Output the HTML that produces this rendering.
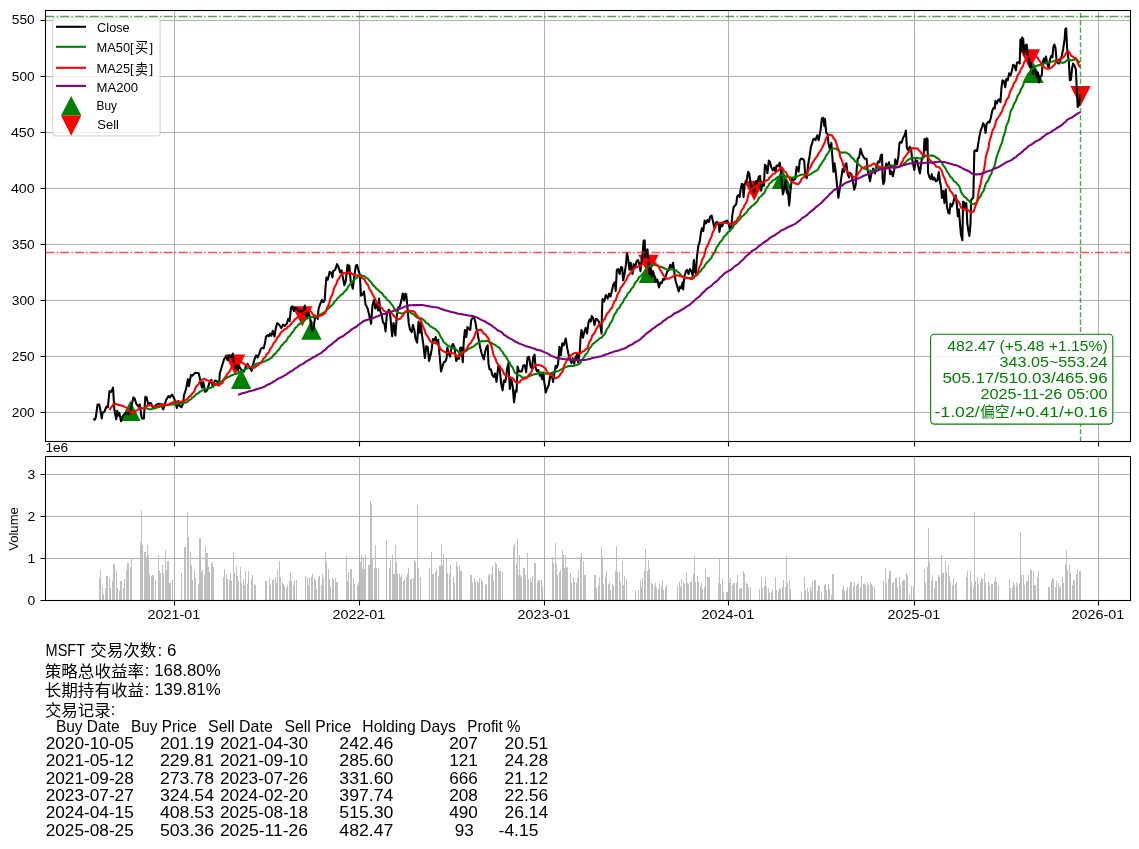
<!DOCTYPE html>
<html lang="zh"><head><meta charset="utf-8"><title>MSFT MA strategy backtest</title>
<style>html,body{margin:0;padding:0;background:#fff}svg{display:block;will-change:transform}text{font-family:"Liberation Sans", sans-serif;white-space:pre}text.cjk{font-family:"Liberation Sans", "Noto Sans CJK SC", sans-serif}</style></head><body>
<svg width="1139" height="849" viewBox="0 0 1139 849">
<rect width="1139" height="849" fill="#fff"/>
<path d="M174.5 10.5V441.5M359.5 10.5V441.5M544.5 10.5V441.5M728.5 10.5V441.5M914.5 10.5V441.5M1098.5 10.5V441.5M45.5 412.5H1130.5M45.5 356.5H1130.5M45.5 300.5H1130.5M45.5 244.5H1130.5M45.5 188.5H1130.5M45.5 132.5H1130.5M45.5 76.5H1130.5M45.5 20.5H1130.5" stroke="#b0b0b0" stroke-width="1" fill="none" shape-rendering="crispEdges"/>
<clipPath id="c1"><rect x="45.5" y="10.5" width="1085" height="431"/></clipPath>
<g clip-path="url(#c1)">
<path d="M130.32 400.67L120.12 421.07L140.52 421.07Z" fill="#008000"/>
<path d="M241.13 368.64L230.93 389.04L251.33 389.04Z" fill="#008000"/>
<path d="M311.46 319.43L301.26 339.83L321.66 339.83Z" fill="#008000"/>
<path d="M648.94 262.63L638.74 283.03L659.14 283.03Z" fill="#008000"/>
<path d="M782.01 168.63L771.81 189.03L792.21 189.03Z" fill="#008000"/>
<path d="M1033.48 62.51L1023.28 82.91L1043.68 82.91Z" fill="#008000"/>
<path d="M235.06 374.88L224.86 354.48L245.26 354.48Z" fill="#ff0000"/>
<path d="M302.35 326.61L292.15 306.21L312.55 306.21Z" fill="#ff0000"/>
<path d="M648.44 275.13L638.24 254.73L658.64 254.73Z" fill="#ff0000"/>
<path d="M754.19 201.11L743.99 180.71L764.39 180.71Z" fill="#ff0000"/>
<path d="M1029.94 69.55L1019.74 49.15L1040.14 49.15Z" fill="#ff0000"/>
<path d="M1080.54 106.29L1070.34 85.89L1090.74 85.89Z" fill="#ff0000"/>
<polyline points="93.63,418.21 94.47,419.9 95.73,417.79 97.56,404.45 99.24,404.45 100.37,410.07 101.77,418.5 102.48,412.88 104.58,411.47 106.41,406.56 107.81,407.26 109.5,391.1 111.18,391.81 113.01,387.59 113.71,398.83 114.41,410.07 116.24,419.2 117.22,410.77 118.21,415.69 119.33,412.88 121.02,421.3 122.14,417.09 124.25,414.28 126.35,412.88 128.46,414.28 130.57,410.07 133.38,397.43 134.78,398.83 136.19,403.75 138.29,406.56 139.7,404.45 141.81,418.5 143.91,418.5 145.32,396.72 146.72,397.43 148.13,404.45 149.53,403.04 150.94,403.04 153.04,407.96 155.85,405.15 158.66,403.75 161.47,404.45 163.16,409.37 164.28,406.56 165.97,400.23 168.5,396.02 169.9,397.43 172.01,394.62 174.11,398.13 176.92,407.96 178.33,400.94 179.73,405.85 181.42,407.26 183.24,403.04 183.95,395.32 186.05,389 187.88,379.16 188.86,386.19 190.97,374.95 192.38,375.65 195.18,372.84 198.7,373.26 200.1,379.16 201.93,387.59 203.33,381.97 205.02,391.81 207.12,390.4 209.23,383.38 211.34,379.87 212.74,386.89 214.85,380.57 216.96,381.27 219.06,385.49 219.77,373.55 221.87,366.52 223.98,359.5 226.09,355.99 227.49,360.2 228.9,355.28 231,357.39 232.83,353.6 233.81,362.31 235.22,367.93 236.62,365.12 238.03,370.74 239.05,365.97 241.15,369.48 243.96,371.59 246.07,365.97 247.48,363.86 249.58,367.38 251.69,370.89 253.09,364.57 254.78,358.24 256.18,355.44 257.59,357.54 259.41,353.33 260.82,349.11 262.22,347.71 263.63,348.41 265.03,342.79 266.02,336.47 267.84,335.07 268.83,336.47 269.95,333.66 271.35,335.77 272.76,330.85 274.45,336.47 275.85,328.04 277.25,323.13 279.08,324.53 281.19,328.04 283.29,324.53 284.7,325.94 286.81,323.83 288.21,318.91 289.62,321.02 291.02,307.68 292.43,306.27 293.83,311.19 295.23,307.68 297.34,309.08 299.45,311.89 301.56,310.49 302.96,314 304.79,305.57 305.77,314 307.17,316.81 308.58,312.59 309.98,316.81 310.97,325.23 312.37,330.85 313.78,327.34 314.9,317.51 316.3,316.81 317.71,318.91 318.41,309.78 319.82,304.87 321.92,299.95 323.33,302.06 324.73,299.95 325.44,288.71 326.42,277.48 327.82,279.58 329.65,271.86 331.05,272.56 332.46,277.48 333.16,271.15 335.27,269.75 337.09,264.13 338.78,267.64 340.18,272.56 341.59,270.45 342.99,278.18 344.4,285.2 345.8,280.99 347.49,264.83 348.61,273.26 349.32,265.54 350.72,281.69 352.83,288.71 354.23,276.07 355.92,265.54 357.04,264.83 358.45,270.45 359.85,274.67 360.97,295.74 362.66,294.33 364.06,291.52 365.47,304.16 367.58,308.38 368.98,314 371.09,323.83 372.49,305.57 373.9,299.95 375.3,308.38 376.71,303.46 378.11,310.49 379.09,298.55 380.22,311.19 381.62,314.7 383.03,322.43 384.43,323.83 385.54,331.35 386.94,313.09 389.05,309.58 390.45,317.31 392.14,336.27 393.54,322.93 395.37,335.57 396.77,315.9 398.18,307.48 400,306.07 401.69,299.05 402.81,293.43 404.22,300.45 405.2,293.71 406.18,294.13 407.59,308.88 408.71,322.93 410.12,329.95 411.8,332.06 412.93,325.03 414.33,329.95 415.46,338.38 417.14,342.59 418.55,321.52 419.67,332.76 420.65,322.93 422.06,335.57 423.46,345.4 424.87,358.04 426.27,346.1 427.68,346.81 429.08,360.85 430.49,355.23 431.89,348.21 432.87,339.08 434.28,340.49 435.68,336.97 436.81,342.59 438.21,339.78 439.62,355.23 441.02,371.39 442.43,366.47 443.83,362.26 445.23,361.56 446.64,358.04 447.34,347.51 448.75,353.83 450.15,356.64 451.56,346.81 452.96,344 454.37,346.81 456.19,360.85 457.88,358.04 459,358.75 459.98,348.21 461.39,347.51 462.79,362.26 463.78,341.19 464.9,329.95 466.3,336.97 467.43,327.14 468.83,328.55 470.24,329.95 471.22,320.12 472.63,318.01 474.03,317.31 475.44,322.22 476.42,328.55 477.54,332.76 478.95,341.19 480.35,348.21 481.76,353.83 483.86,359.45 485.27,351.02 486.67,346.81 487.66,345.4 488.5,363.66 489.48,369.28 490.89,369.28 492.29,374.9 493.7,377.01 495.1,373.5 496.51,381.92 498.33,365.77 499.74,369.28 501.14,383.33 502.55,390.35 503.95,380.52 505.36,381.92 507.04,369.28 508.45,362.96 509.85,388.95 511.26,379.11 512.66,386.14 514.06,402.29 515.47,390.35 516.59,391.76 517.58,366.47 518.98,371.39 521.79,371.39 523.19,365.77 524.6,365.07 525,365.85 526.12,372.17 527.53,357.43 528.93,356.72 530.62,366.56 532.02,368.66 533.15,357.43 534.55,354.62 535.54,367.26 536.94,371.47 538.34,370.07 539.75,375.69 541.15,374.28 542.14,379.2 543.26,372.88 544.38,382.71 545.79,392.54 547.19,388.33 548.6,385.52 550,377.09 551.41,372.88 553.09,382.01 554.22,374.28 555.62,365.85 556.61,367.96 558.01,364.45 559.41,346.89 560.82,355.32 562.22,343.38 563.63,345.49 565.74,338.46 567.14,347.59 568.55,354.62 569.95,358.83 571.35,363.04 572.76,358.13 574.16,363.75 575.57,357.43 576.97,354.62 578.1,362.34 579.78,351.81 580.49,337.76 581.47,330.03 582.87,337.76 584.28,332.14 585.68,327.93 587.09,333.55 588.49,322.31 589.62,319.5 590.74,321.61 591.72,315.99 593.13,318.09 594.53,325.12 595.94,318.8 597.34,319.5 598.75,321.61 600.15,325.12 601.56,333.55 601.98,311.07 602.54,299.13 604.21,301.39 605.9,295.07 607.73,298.58 609.13,293.66 610.54,296.47 612.36,288.75 613.34,284.53 614.75,282.43 615.73,290.85 616.86,269.78 618.26,269.08 619.67,274 621.07,266.97 622.19,267.68 623.18,280.32 624.58,274 625.99,264.16 626.97,252.93 628.09,258.55 629.5,269.78 630.62,262.76 632.59,274 633.71,264.16 635.12,267.68 636.52,261.35 637.93,259.95 639.33,264.16 640.46,271.19 641.44,261.35 642.42,257.14 643.55,240.99 644.67,240.28 645.23,257.14 646.35,250.12 647.48,249.41 648.46,261.35 649.45,274 650.57,268.38 651.69,276.81 653.1,271.19 654.5,276.81 655.49,281.72 657.31,279.62 659,287.34 660.4,282.43 661.81,283.13 663.21,278.91 664.62,279.62 666.02,275.4 667.43,271.19 668.83,269.78 670.23,264.87 671.64,267.68 673.04,262.76 674.17,271.19 675.57,281.02 676.98,285.23 678.66,291.56 680.07,286.64 681.19,288.04 682.6,282.43 683.16,289.45 684.28,276.81 685.97,271.19 687.09,269.78 688.5,274 689.9,269.08 691.3,271.19 692.71,275.4 693.83,259.95 694.82,271.19 695.8,274 696.92,257.14 698.33,245.9 699.73,241.69 700.86,233.26 701.84,228.34 703.24,231.15 704.65,220.62 706.05,223.43 707.46,219.92 708.86,222.02 710.27,216.4 711.67,215.7 713.08,222.02 714.48,228.34 715.89,222.73 717.29,222.02 718.7,224.13 719.4,231.86 720.8,224.83 722.21,226.24 723.61,222.02 725.72,221.32 727.12,220.62 728.53,223.43 729.93,229.05 731.34,226.94 732.32,215 733.71,206.92 735.12,205.52 736.24,204.11 737.22,196.39 738.63,194.98 739.61,197.09 740.74,188.66 741.86,183.75 742.84,184.45 743.55,197.09 744.67,184.45 746.07,181.64 747.06,178.83 748.04,171.81 749.16,173.21 750.29,181.64 751.27,187.96 752.68,185.85 754.08,192.88 755.06,183.75 756.19,180.94 757.31,184.45 758.72,176.72 760.12,176.02 761.1,190.77 762.51,183.04 763.91,185.85 764.9,164.78 766.3,166.19 767.43,173.21 768.83,160.57 769.95,161.97 771.36,167.59 772.76,170.4 774.17,167.59 775.57,171.81 776.56,165.49 777.96,166.19 779.79,162.68 780.77,170.4 781.75,183.04 782.88,194.28 784.28,188.66 785.69,180.23 786.81,192.88 787.79,190.07 789.2,205.52 790.6,188.66 792.01,178.83 793.41,180.23 795.24,178.83 796.64,166.89 797.63,168.29 798.61,171.81 799.73,160.57 801.14,158.46 803.24,159.16 804.23,161.27 805.35,176.02 806.76,178.13 808.16,164.78 809.57,156.35 810.97,146.52 812.09,143.71 813.08,139.5 814.48,138.8 815.47,140.2 817.29,135.28 818.7,140.2 819.68,134.58 820.52,130.37 821.93,118.43 823.33,117.73 824.32,126.15 825.02,119.13 826.14,132.48 827.55,133.88 828.53,143.71 829.93,149.33 831.34,143.01 832.32,156.35 833.45,171.81 834.57,163.38 835.55,170.4 836.96,184.45 838.36,197.79 839.77,188.66 841.17,178.83 842.58,169 843.98,171.81 845.39,164.08 846.37,163.38 847.49,173.21 848.9,177.43 850,172.76 851.4,174.16 852.81,181.19 854.21,189.62 855.62,185.4 856.74,168.55 857.73,158.71 859.13,157.31 860.54,148.88 861.94,153.8 863.34,156.61 864.75,158.71 866.58,158.71 867.56,169.95 868.96,175.57 869.95,181.19 871.35,174.16 873.18,168.55 875,173.46 876.69,165.74 878.09,161.52 879.5,162.22 880.9,155.2 882.03,154.5 882.59,178.38 883.43,184 884.41,181.19 885.12,168.55 886.24,163.63 887.65,167.14 889.05,162.22 890.03,174.16 891.44,171.35 892.84,176.27 894.25,169.95 895.23,159.41 897.06,164.33 898.46,155.9 899.45,143.26 900.57,141.86 901.69,142.56 903.1,137.64 904.5,135.54 905.91,130.62 906.89,148.18 908.29,150.28 909.7,146.77 911.1,148.88 912.09,158.71 913.21,164.33 914.33,169.95 915.74,160.12 917.14,160.82 918.55,167.84 919.95,173.46 921.36,161.52 922.76,157.31 923.75,153.09 924.45,139.05 925.57,150.28 926.56,138.34 927.54,139.05 928.1,172.76 929.37,176.97 930.77,179.08 931.75,174.16 933.16,179.78 934.28,177.68 935.97,181.19 937.37,180.49 938.78,172.06 939.9,181.19 941.02,186.81 942.01,198.04 943.41,191.02 944.4,202.96 945.8,189.62 946.92,206.47 948.33,212.79 949.45,213.5 950.44,203.66 951.84,206.47 953.24,202.96 954.65,196.64 955.63,195.23 956.76,203.66 957.88,216.3 958.86,209.28 959.85,221.92 960.97,234.57 962.38,240.18 963.08,201.56 964.06,202.26 965.18,209.28 966.31,202.96 967.29,223.33 968.28,230.35 969.4,235.97 970.52,223.33 971.08,200.15 972.21,198.75 973.33,197.34 974.32,150.99 975.72,150.28 977.12,150.99 978.11,144.67 979.23,137.64 980.64,130.62 982.04,127.11 983.18,123.16 984.58,125.97 985.57,132.99 986.69,123.86 988.09,121.76 989.5,122.46 990.9,117.54 992.31,110.52 993.71,107.71 994.84,108.41 995.4,100.69 996.8,103.5 998.21,99.98 999.61,99.28 1000.46,102.09 1001.44,88.04 1002.42,80.32 1003.83,81.02 1005.23,87.34 1006.35,78.91 1007.76,80.32 1009.16,73.29 1010.57,75.4 1011.69,71.89 1013.1,64.87 1014.5,65.57 1015.91,70.49 1016.89,62.76 1018.29,62.06 1019.7,63.46 1020.4,39.58 1021.39,51.52 1022.09,37.48 1023.21,38.88 1024.19,54.33 1024.9,48.71 1025.74,45.2 1026.72,44.5 1027.71,54.33 1028.83,57.14 1029.95,66.97 1030.94,62.76 1031.92,71.19 1033.04,74 1034.17,68.38 1035.57,70.49 1036.56,76.81 1037.96,72.59 1038.94,82.43 1040.35,76.81 1041.75,75.4 1042.88,61.35 1044,58.55 1044.98,62.76 1045.97,56.44 1047.09,62.76 1048.5,67.68 1049.9,59.95 1051.3,55.74 1052.43,57.14 1053.41,46.61 1054.4,44.5 1055.52,48.01 1056.64,61.35 1057.63,62.76 1059.03,63.46 1060.44,59.95 1061.84,55.74 1063.24,48.71 1064.65,38.88 1065.35,29.05 1066.19,28.34 1067.04,47.31 1068.16,57.14 1068.86,61.35 1069.85,80.32 1070.97,79.62 1072.09,68.38 1073.08,63.46 1074.48,65.57 1075.89,69.78 1076.59,85.23 1077.71,107.01 1079.12,104.9 1080.1,95.07 1080.52,96.05" fill="none" stroke="#000" stroke-width="2.08" stroke-linejoin="round" stroke-linecap="butt"/>
<polyline points="145.5,408.12 146.52,408.35 148.54,408.91 149.55,409.3 151.58,409.12 152.59,408.83 153.6,408.57 155.62,408.15 157.14,407.54 159.16,407 160.18,406.58 162.2,406.25 163.21,406.06 164.22,405.79 166.25,405.33 167.26,404.96 169.28,404.71 170.3,404.67 172.83,404.51 173.84,404.24 176.37,404.09 177.38,404.15 178.39,403.66 180.42,403.16 181.43,402.89 183.96,402.94 184.97,402.78 186.99,402.11 188.01,401.2 189.02,400.43 191.04,399.23 192.05,397.93 194.08,396.7 195.09,395.43 196.1,394.2 198.63,392.96 199.64,391.8 201.67,390.86 202.68,389.99 204.7,389.42 205.71,389.14 206.73,388.9 208.75,388.44 209.76,387.92 211.79,387.3 212.8,386.63 213.81,385.74 215.83,384.89 216.85,383.88 218.87,382.94 219.88,381.99 222.41,380.99 223.42,379.98 224.44,379.13 226.46,378.01 227.47,377.34 229.49,376.61 230.51,375.89 231.52,375.24 233.54,374.63 234.55,374.27 236.58,373.87 237.59,373.18 238.6,372.53 240.63,371.8 241.64,370.93 243.66,370.13 244.67,369.51 245.69,368.9 247.71,368.2 248.72,367.39 251.25,366.75 252.26,366.29 254.29,365.57 255.3,364.54 256.31,363.71 258.34,363.24 259.35,362.91 261.37,362.56 262.38,362.21 263.39,361.76 265.42,361.14 266.43,360.34 268.96,359.51 269.97,358.57 272,357.36 273.01,355.98 274.02,354.63 276.04,353 277.06,351.26 279.08,349.44 280.09,347.64 281.1,345.92 283.13,344.22 284.14,342.66 286.16,341.04 287.18,339.24 288.19,337.25 290.21,335.44 291.22,333.49 293.25,331.58 294.26,329.74 295.27,327.91 297.29,326.26 298.31,324.74 300.84,323.25 301.85,322.02 303.87,321 304.88,319.84 305.9,318.97 307.92,318.22 308.93,317.49 310.96,316.92 311.97,316.91 312.98,317.12 315,316.93 316.02,316.58 318.04,316.12 319.05,315.44 320.06,314.64 322.09,313.65 323.1,312.78 325.12,311.89 326.14,310.52 327.15,309.29 329.17,307.96 330.18,306.42 332.21,305.07 333.22,303.64 334.23,302.07 336.25,300.33 337.27,298.48 339.29,296.74 340.3,295.33 342.83,293.79 343.84,292.43 344.86,291.27 346.88,289.39 347.89,286.93 349.92,284.61 350.93,283.06 351.94,281.77 353.96,280.37 354.98,278.95 357.51,277.38 358.52,276.15 360.54,275.29 361.55,275.2 362.56,275.64 364.59,276.27 365.6,277.38 368.13,278.82 369.14,280.39 371.17,282.26 372.18,283.95 373.19,285.41 375.21,287.07 376.23,288.61 378.25,289.98 379.26,291.08 380.27,292.18 382.3,293.49 383.31,295.44 385.84,297.78 386.85,299.6 388.88,300.83 389.89,301.95 390.9,303.51 392.92,305.83 393.94,308.2 395.96,310.54 396.97,312.04 397.98,312.63 400.01,313.09 401.02,313.45 403.04,313.23 404.05,312.85 405.07,312.15 407.09,311.4 408.1,311.36 410.13,312.24 411.14,313.23 413.67,314.17 414.68,315.17 415.69,316.61 417.72,317.77 418.73,318.09 420.75,318.25 421.76,318.47 422.78,319.32 424.8,321.08 425.81,322.65 427.84,323.76 428.85,324.75 429.86,326.11 431.88,326.96 432.89,327.91 435.42,329.05 436.44,330.38 438.46,331.96 439.47,334.11 440.48,336.67 442.51,339.5 443.52,342.01 446.05,343.96 447.06,345.13 449.09,345.95 450.1,347.01 451.11,347.83 453.64,348.12 454.65,348.52 456.68,349.94 457.69,351.25 459.71,352.21 460.72,352.57 461.73,352.34 463.76,352.13 464.77,351.59 466.79,350.65 467.81,349.41 468.82,348.56 470.84,347.97 471.85,347.2 473.88,346.34 474.89,345.42 475.9,344.33 477.93,343.19 478.94,342.09 480.96,341.42 481.97,341.12 482.99,341.18 485.52,341.18 486.53,340.86 488.55,341.14 489.56,342.07 491.59,342.99 492.6,343.57 493.61,344.28 495.63,345.1 496.65,346.39 498.67,347.27 499.68,348.13 500.69,349.83 502.72,352.1 503.73,354.33 505.75,356.4 506.77,358.27 507.78,360.17 509.8,362.79 510.81,365.37 512.84,367.78 513.85,370.31 514.86,372.63 516.89,374.26 517.9,374.89 519.92,375.45 520.93,376.25 521.95,377.17 523.97,377.44 525.49,377.39 527.51,376.97 528.52,376.27 530.55,375.67 531.56,375.37 532.57,374.79 534.59,374.15 535.61,373.99 537.63,373.73 538.64,373.01 539.65,372.63 542.18,372.55 543.2,372.6 545.73,373.53 546.74,373.82 548.76,373.87 549.77,373.72 552.3,372.92 553.32,372.24 555.34,371.61 556.35,371.51 557.36,371.36 559.39,370.52 560.4,369.73 562.42,369.08 563.43,368.2 564.45,367.53 566.47,366.91 567.48,366.36 570.01,365.87 571.02,365.69 573.05,365.92 574.06,365.82 575.07,365.46 577.1,364.85 578.11,364.3 580.13,363.26 581.14,361.66 582.16,359.34 584.18,357.07 585.19,354.86 587.22,352.87 588.23,350.85 589.24,348.47 591.26,346.38 592.28,344.36 594.81,342.65 595.82,341.46 597.84,340.19 598.85,339.08 599.86,338.24 601.89,337.46 602.9,335.83 604.92,333.9 605.94,331.52 606.95,328.93 608.97,326.3 609.98,323.6 612.01,320.9 613.02,318.17 614.03,315.1 616.06,312.5 617.07,310.02 619.6,307.59 620.61,305.07 622.63,302.67 623.65,300.62 624.66,298.55 626.68,296.07 627.69,293.48 630.22,291.31 631.23,288.95 633.26,286.87 634.27,284.69 635.28,282.5 637.81,279.98 638.82,277.49 640.85,276.2 641.86,274.66 643.88,272.78 644.9,270.67 645.91,269.05 647.93,267.34 648.94,266.18 650.97,265.6 651.98,265.27 652.99,264.69 655.02,264.91 656.03,265.31 658.05,265.75 659.06,266.4 660.08,266.61 662.1,266.93 663.11,267.77 665.13,268.7 666.15,269.24 667.16,269.55 669.69,269.51 670.7,269.53 672.72,269.45 673.74,269.67 675.76,270.26 676.77,270.86 677.78,271.92 679.81,273.49 680.82,275.23 682.84,276.51 683.86,277.8 684.87,278.26 686.89,278.16 687.9,278.01 689.93,277.96 690.94,277.64 691.95,277.28 693.98,276.54 694.99,275.88 697.01,275.09 698.02,273.8 699.03,272.38 701.06,270.59 702.07,268.73 704.09,266.91 705.11,265.06 706.12,263.36 708.14,261.59 709.66,259.76 711.68,257.33 712.7,254.74 714.72,252.25 715.73,249.68 716.74,247.09 718.77,244.6 719.78,242.43 721.8,240.47 722.82,238.66 723.83,236.7 726.36,234.68 727.37,232.71 729.9,230.93 730.91,229.52 732.93,227.26 733.95,224.97 736.48,223.12 737.49,221.23 739.51,219.72 740.52,218.24 741.54,216.6 743.56,215.45 744.57,214.07 746.6,212.52 747.61,210.78 748.62,209.03 750.64,207.56 751.66,206.05 754.19,204.64 755.2,203.16 757.22,201.52 758.23,199.54 759.25,197.54 761.27,196.04 762.28,194.57 764.31,192.95 765.32,190.75 766.33,188.27 768.35,185.84 769.36,183.76 771.39,182.05 772.4,180.65 774.93,179.56 775.94,178.52 776.95,177.48 778.98,176.61 779.99,175.46 782.01,175 783.03,175.42 784.04,175.97 786.06,176.39 787.07,176.75 789.1,177.16 790.11,177.5 791.12,177.56 793.15,177.42 794.16,177.38 796.18,177.32 797.19,176.5 798.21,175.85 800.23,175.04 801.24,174.76 803.77,174.49 804.78,174.42 806.81,175.04 807.82,175.26 808.83,174.99 810.85,174.15 811.87,173.13 813.89,172.13 815.41,171.12 817.43,170.06 818.44,168.52 819.46,166.33 821.48,163.68 823,161.09 825.02,158.31 826.03,155.54 828.06,153.07 829.07,151.4 830.08,150.14 832.11,148.94 833.12,148.49 835.14,148.56 836.15,148.74 837.16,149.68 839.19,151.1 840.2,152.21 842.22,152.67 843.24,152.41 844.25,152.42 846.27,152.48 847.28,153.28 849.31,154.48 850.32,155.78 851.33,157.15 853.86,159.1 854.87,161.1 856.9,162.42 857.91,163.85 859.93,165.34 860.95,166.47 861.96,167.46 863.98,168.31 864.99,168.85 867.02,169.37 868.03,170.2 869.04,170.65 871.06,170.96 872.08,170.92 874.1,170.39 875.11,169.53 876.12,168.81 878.15,168.23 879.16,167.92 881.18,167.41 882.2,167.19 883.21,167.66 885.23,167.54 886.24,167.19 888.27,166.84 889.28,165.96 890.29,165.32 892.32,165.45 893.33,166.04 895.35,166.47 896.36,166.94 898.89,167.08 899.91,166.52 900.92,165.86 902.94,164.98 903.95,163.62 905.98,161.97 906.99,160.68 908,159.75 910.02,158.81 911.54,157.95 913.57,157.76 915.08,157.93 917.11,157.88 918.63,158.18 920.65,158.64 921.66,157.88 924.19,157.08 925.2,156.25 927.23,155.4 928.24,155.32 929.25,155.45 931.28,155.62 932.29,155.63 934.31,156.12 935.32,156.82 936.33,157.8 938.86,159.02 939.88,160.49 941.9,162.69 942.91,165.01 944.94,167.44 945.95,169.35 946.96,171.49 948.98,174.13 950,176.51 952.02,178.11 953.03,179.62 954.04,181.21 956.07,182.46 957.08,183.86 959.1,185.89 960.12,188.7 961.13,192.26 963.15,195.05 964.16,196.67 966.19,197.83 967.2,199.37 969.73,201.52 970.74,203.22 971.75,204.03 973.78,204.27 974.79,203.39 976.81,202.26 977.82,200.43 978.84,198.3 980.86,195.77 981.87,193.2 983.9,190.09 984.91,186.64 985.92,183.46 988.45,180.14 989.46,176.87 991.49,173.48 992.5,170.05 994.52,166.21 995.53,161.83 996.55,157.06 998.57,151.74 1000.09,147.21 1002.11,142.51 1003.12,137.53 1005.15,132.24 1006.16,126.36 1008.69,120.65 1009.7,115.61 1010.71,111.13 1012.74,107.78 1013.75,104.36 1015.77,101.14 1016.78,98.1 1017.8,95.35 1019.82,92.67 1020.83,89.4 1022.86,86.11 1023.87,82.68 1024.88,79.84 1026.9,76.77 1027.92,74.25 1029.94,72.27 1030.95,70.48 1031.96,69.11 1033.99,67.84 1035,66.6 1037.53,65.48 1038.54,65.12 1040.56,65.07 1041.58,64.75 1042.59,64.18 1044.61,63.49 1045.62,62.95 1047.65,62.4 1048.66,62.34 1049.67,62.25 1051.7,61.78 1052.71,61.38 1054.73,60.77 1055.74,60.27 1056.76,60.9 1058.78,61.64 1059.79,62.32 1061.82,62.61 1062.83,62.87 1063.84,62.6 1065.86,61.29 1066.88,60.25 1068.9,59.73 1069.91,59.95 1070.92,60.37 1072.95,60.1 1073.96,59.64 1075.98,59.22 1076.99,59.71 1078.01,61.17 1080.03,62.7" fill="none" stroke="#008000" stroke-width="2.08" stroke-linejoin="round"/>
<polyline points="109.58,410.12 110.59,407.98 112.62,405.7 113.63,403.78 114.64,403.58 117.17,404.3 118.18,404.9 120.21,405.08 121.22,405.68 123.24,406.09 124.25,406.6 125.26,407.16 127.29,408.13 128.3,409.95 130.32,411.59 131.34,413.09 132.35,413.23 134.37,412.01 135.38,411.04 137.41,410.15 138.42,409.17 139.43,408.02 141.46,407.95 142.47,408.31 144.49,408.36 145.5,407.2 146.52,405.87 148.54,405.41 149.55,405.24 151.58,405.54 152.59,406.14 153.6,406.61 155.62,406.6 157.14,406.5 159.16,406.1 160.18,405.04 162.2,404 163.21,404.24 164.22,405.07 166.25,405.05 167.26,404.63 169.28,404.15 170.3,403.5 172.83,402.6 173.84,401.85 176.37,401.63 177.38,401.84 178.39,401.7 180.42,401.86 181.43,401.84 183.96,401.2 184.97,400.33 186.99,399.37 188.01,398.01 189.02,397.01 191.04,395.37 192.05,393.69 194.08,391.8 195.09,389.11 196.1,386.59 198.63,384.16 199.64,381.72 201.67,380.01 202.68,379.29 204.7,378.87 205.71,379.59 206.73,380.31 208.75,380.67 209.76,381.29 211.79,381.8 212.8,382.76 213.81,383.68 215.83,384.3 216.85,384.86 218.87,385.1 219.88,384.31 222.41,383.07 223.42,380.78 224.44,378.23 226.46,375.66 227.47,373.68 229.49,371.69 230.51,369.55 231.52,367.22 233.54,365.26 234.55,363.92 236.58,362.69 237.59,361.52 238.6,361.27 240.63,361.61 241.64,362.34 243.66,363.41 244.67,364.41 245.69,365.08 247.71,365.73 248.72,366.4 251.25,367.41 252.26,368.04 254.29,367.78 255.3,367.11 256.31,366 258.34,365.08 259.35,363.89 261.37,362.31 262.38,360.45 263.39,358.78 265.42,356.87 266.43,354.63 268.96,352.19 269.97,349.31 272,346.65 273.01,344.46 274.02,342.66 276.04,340.44 277.06,338 279.08,335.7 280.09,333.9 281.1,332.26 283.13,330.62 284.14,329.53 286.16,328.67 287.18,327.69 288.19,326.55 290.21,325.37 291.22,323.48 293.25,321.53 294.26,320.25 295.27,319.03 297.29,317.74 298.31,316.41 300.84,315.15 301.85,314.04 303.87,312.88 304.88,311.49 305.9,310.76 307.92,310.42 308.93,310.45 310.96,311.49 311.97,312.94 312.98,314.58 315,315.46 316.02,316.08 318.04,316.5 319.05,316.31 320.06,315.76 322.09,315.11 323.1,314.53 325.12,313.13 326.14,310.71 327.15,307.82 329.17,303.72 330.18,299.08 332.21,295.03 333.22,291.49 334.23,287.78 336.25,284.22 337.27,280.87 339.29,278.07 340.3,275.77 342.83,273.56 343.84,272.85 344.86,273.26 346.88,272.92 347.89,272.44 349.92,272.42 350.93,272.78 351.94,273.89 353.96,274.8 354.98,275.37 357.51,275.43 358.52,275.38 360.54,276.04 361.55,277.39 362.56,278.27 364.59,279.41 365.6,282.16 368.13,285.22 369.14,288.29 371.17,291.23 372.18,293.51 373.19,295.69 375.21,298.75 376.23,301.81 378.25,304.59 379.26,305.39 380.27,306.48 382.3,308.4 383.31,310.27 385.84,311.9 386.85,312.38 388.88,311.99 389.89,311.46 390.9,312.45 392.92,314.64 393.94,316.04 395.96,317.95 396.97,318.89 397.98,319.44 400.01,318.86 401.02,317.51 403.04,315.44 404.05,313.38 405.07,312.03 407.09,311.25 408.1,310.98 410.13,310.8 411.14,311.16 413.67,311.35 414.68,311.93 415.69,313.89 417.72,316.3 418.73,317.89 420.75,319.92 421.76,322.7 422.78,325.9 424.8,330.59 425.81,334.26 427.84,336.57 428.85,338.62 429.86,340.8 431.88,342.48 432.89,343.03 435.42,342.9 436.44,343.64 438.46,344.97 439.47,346.95 440.48,349.13 442.51,350.76 443.52,351.41 446.05,352.43 447.06,352.75 449.09,352.14 450.1,352.28 451.11,352.75 453.64,353.19 454.65,353.97 456.68,355.48 457.69,356.55 459.71,356.41 460.72,354.92 461.73,353.63 463.76,352.37 464.77,350.37 466.79,348.94 467.81,346.77 468.82,344.63 470.84,342.97 471.85,340.87 473.88,337.91 474.89,334.7 475.9,331.92 477.93,330.65 478.94,330 480.96,329.63 481.97,330.8 482.99,332.79 485.52,334.47 486.53,336.09 488.55,338.5 489.56,342.19 491.59,346.34 492.6,350.88 493.61,355.31 495.63,359.02 496.65,362.51 498.67,364.83 499.68,366.18 500.69,367.88 502.72,370.61 503.73,373.35 505.75,375.7 506.77,376.32 507.78,376.15 509.8,376.97 510.81,377.63 512.84,378.31 513.85,379.81 514.86,381.35 516.89,383 517.9,382.83 519.92,381.76 520.93,380.48 521.95,379.65 523.97,378.73 525.49,378.5 527.51,377.53 528.52,375.14 530.55,373.61 531.56,371.73 532.57,369.01 534.59,365.95 535.61,364.9 537.63,365.01 538.64,364.96 539.65,365.2 542.18,365.97 543.2,366.73 545.73,368.69 546.74,371.34 548.76,373.6 549.77,374.66 552.3,375.38 553.32,377.06 555.34,378.17 556.35,378.06 557.36,377.76 559.39,376.01 560.4,374.02 562.42,371.75 563.43,368.86 564.45,365.02 566.47,361.31 567.48,358.5 570.01,356.75 571.02,355.32 573.05,353.89 574.06,353.52 575.07,353 577.1,352.65 578.11,353.61 580.13,353.48 581.14,352.72 582.16,351.73 584.18,351.1 585.19,349.92 587.22,348.3 588.23,345.63 589.24,342.34 591.26,339.12 592.28,335.42 594.81,332.74 595.82,329.8 597.84,326.51 598.85,324.97 599.86,324.33 601.89,323.52 602.9,321.06 604.92,318.73 605.94,315.96 606.95,313.85 608.97,311.78 609.98,309.98 612.01,307.81 613.02,304.95 614.03,302.13 616.06,299.44 617.07,295.44 619.6,290.89 620.61,287.82 622.63,285.43 623.65,283.93 624.66,282.26 626.68,279.27 627.69,276.15 630.22,273.46 631.23,271.51 633.26,270.2 634.27,268.48 635.28,267.43 637.81,266.71 638.82,265.84 640.85,265.9 641.86,264.64 643.88,262.4 644.9,260.48 645.91,260.43 647.93,259.97 648.94,259.97 650.97,260.37 651.98,261.1 652.99,261.62 655.02,262.74 656.03,264.41 658.05,265.62 659.06,267.34 660.08,269.42 662.1,272.78 663.11,275.06 665.13,277.25 666.15,278.67 667.16,278.83 669.69,278.38 670.7,277.64 672.72,276.88 673.74,275.73 675.76,275.39 676.77,275.37 677.78,275.46 679.81,275.87 680.82,276.33 682.84,276.92 683.86,277.49 684.87,277.6 686.89,277.61 687.9,278.06 689.93,278.51 690.94,279.01 691.95,279.21 693.98,277.69 694.99,276.41 697.01,274.49 698.02,271.54 699.03,268.1 701.06,263.9 702.07,259.91 704.09,256.28 705.11,252.35 706.12,248.34 708.14,244.43 709.66,240.36 711.68,236.1 712.7,232.48 714.72,228.69 715.73,226.28 716.74,224.33 718.77,223.09 719.78,223.03 721.8,222.82 722.82,223 723.83,223.03 726.36,222.98 727.37,222.95 729.9,223.79 730.91,224.68 732.93,224 733.95,222.49 736.48,220.99 737.49,218.94 739.51,216.42 740.52,213.5 741.54,210.33 743.56,207.85 744.57,205.19 746.6,202.07 747.61,198.29 748.62,193.77 750.64,190.67 751.66,188.86 754.19,187.48 755.2,186.29 757.22,185.27 758.23,184.09 759.25,183.12 761.27,183.2 762.28,182.53 764.31,182.2 765.32,181.13 766.33,180.54 768.35,179.79 769.36,177.82 771.39,176.04 772.4,174.41 774.93,173.39 775.94,172.37 776.95,171.4 778.98,170.09 779.99,168.12 782.01,167.56 783.03,169.17 784.04,171.18 786.06,172.37 787.07,174.64 789.1,177.52 790.11,179.88 791.12,181.23 793.15,181.96 794.16,182.92 796.18,183.69 797.19,183.98 798.21,184.23 800.23,182 801.24,179.29 803.77,177.22 804.78,175.45 806.81,174.25 807.82,171.69 808.83,169.34 810.85,166.69 811.87,163.88 813.89,160.79 815.41,158.44 817.43,155.98 818.44,153.81 819.46,152.04 821.48,149.31 823,145.87 825.02,141.85 826.03,138.09 828.06,135.69 829.07,134.81 830.08,134.96 832.11,135.49 833.12,137.47 835.14,139.83 836.15,142.8 837.16,146.4 839.19,151.43 840.2,156.79 842.22,161.25 843.24,165.06 844.25,168.17 846.27,169.94 847.28,171.73 849.31,173.91 850.32,175.22 851.33,175.62 853.86,176.95 854.87,177.7 856.9,176.05 857.91,173.61 859.93,171.32 860.95,169.68 861.96,168.25 863.98,167.46 864.99,166.92 867.02,166 868.03,165.69 869.04,165.82 871.06,165.62 872.08,164.37 874.1,163.57 875.11,164.23 876.12,165.13 878.15,166.03 879.16,166.88 881.18,167.11 882.2,167.14 883.21,168.9 885.23,169.32 886.24,168.67 888.27,167.7 889.28,166.86 890.29,166.96 892.32,167.11 893.33,167.38 895.35,167.39 896.36,167.4 898.89,166.97 899.91,166.04 900.92,163.78 902.94,160.58 903.95,158.16 905.98,155.72 906.99,154.16 908,152.67 910.02,150.6 911.54,148.66 913.57,148.01 915.08,148.49 917.11,148.35 918.63,149.84 920.65,152.02 921.66,153.69 924.19,154.81 925.2,155.46 927.23,156.05 928.24,157.11 929.25,159.29 931.28,161.67 932.29,163.02 934.31,163.89 935.32,165.22 936.33,166.74 938.86,167.03 939.88,168.12 941.9,170.84 942.91,175 944.94,178.75 945.95,182.56 946.96,184.88 948.98,187.69 950,190.51 952.02,192.71 953.03,194.78 954.04,196.39 956.07,197.92 957.08,200.32 959.1,202.45 960.12,204.49 961.13,207.74 963.15,209.18 964.16,209.73 966.19,209.34 967.2,209.58 969.73,211.44 970.74,212.65 971.75,212.41 973.78,211.58 974.79,207.68 976.81,202.92 977.82,197.52 978.84,190.63 980.86,182.69 981.87,176.8 983.9,170.47 984.91,164.04 985.92,156.61 988.45,148.02 989.46,141.23 991.49,134.63 992.5,130.37 994.52,127.01 995.53,123.26 996.55,119.86 998.57,116.98 1000.09,114.65 1002.11,111.29 1003.12,107.72 1005.15,104.03 1006.16,100.53 1008.69,96.96 1009.7,93.27 1010.71,90.2 1012.74,86.86 1013.75,83.51 1015.77,80.81 1016.78,77.92 1017.8,74.94 1019.82,72.33 1020.83,69.29 1022.86,66.4 1023.87,63.17 1024.88,60.86 1026.9,58.54 1027.92,56.83 1029.94,55.98 1030.95,55.83 1031.96,56.14 1033.99,56.28 1035,56.77 1037.53,57.53 1038.54,59.54 1040.56,62.05 1041.58,64.93 1042.59,66.3 1044.61,67.36 1045.62,68.28 1047.65,68.72 1048.66,68.78 1049.67,68.58 1051.7,67.35 1052.71,66.27 1054.73,64.44 1055.74,62.46 1056.76,60.77 1058.78,59.72 1059.79,58.82 1061.82,58.51 1062.83,57.75 1063.84,56.82 1065.86,53.88 1066.88,51.68 1068.9,51.49 1069.91,53.05 1070.92,55.31 1072.95,56.84 1073.96,57.7 1075.98,58.21 1076.99,60.21 1078.01,63.71 1080.03,67.21" fill="none" stroke="#ff0000" stroke-width="2.08" stroke-linejoin="round"/>
<polyline points="238.1,394.7 240.63,393.95 242.14,393.23 244.67,392.66 247.2,392.07 248.72,391.34 251.76,390.7 254.29,390.05 255.81,389.37 258.34,388.84 259.85,388.29 262.38,387.44 264.91,386.44 266.43,385.27 269.47,384.01 272,382.79 273.51,381.57 276.04,380.33 277.56,379.03 280.09,377.84 282.62,376.77 284.14,375.6 286.67,374.38 288.19,373.02 290.72,371.48 293.25,370.05 294.76,368.71 297.29,367.29 298.81,365.87 301.85,364.43 304.38,362.99 305.9,361.59 308.43,360.25 310.96,358.9 312.47,357.75 315,356.61 316.52,355.41 319.05,354.12 321.58,352.71 323.1,351.13 325.63,349.48 327.15,347.57 329.68,345.7 332.21,343.97 333.72,342.33 336.25,340.67 337.77,339.01 340.3,337.48 343.34,336.02 344.86,334.65 347.39,332.93 349.92,331.2 351.43,329.55 353.96,327.98 357,326.3 358.52,324.56 361.05,323.09 362.56,321.79 365.09,320.5 368.13,319.56 369.65,318.86 372.18,318.24 374.71,317.42 376.23,316.67 378.76,315.9 380.27,315.05 382.8,314.33 385.84,313.66 387.36,312.86 389.89,311.98 392.42,311.3 393.94,310.72 396.46,310.11 397.98,309.24 400.51,308.4 403.04,307.54 404.56,306.68 407.09,305.89 408.61,305.4 411.14,305.2 414.17,305.1 415.69,305.11 418.22,305.12 420.75,305 422.27,305.08 424.8,305.48 426.32,305.83 428.85,306.24 431.38,306.7 432.89,307 435.93,307.28 438.46,307.74 439.98,308.41 442.51,309.28 444.03,310.09 447.06,310.78 449.59,311.4 451.11,312.08 454.15,312.55 456.68,313.2 458.19,313.74 460.72,314.03 463.25,314.5 464.77,314.81 467.3,315.16 468.82,315.55 471.35,315.89 473.88,316.36 475.4,317.01 477.93,317.88 479.44,318.87 481.97,320.1 485.01,321.43 486.53,322.66 489.06,324.01 491.59,325.37 493.11,326.77 495.63,328.39 497.15,329.96 499.68,331.22 502.21,332.74 503.73,334.51 506.26,336.13 507.78,337.26 510.31,338.62 512.84,339.86 514.36,341.19 516.89,342.27 518.4,343.16 520.93,344.15 523.46,345.11 525.49,346.05 528.02,346.77 530.55,347.36 532.06,348.02 534.59,348.71 536.11,349.49 538.64,350.12 541.68,350.86 543.2,351.69 546.23,352.91 548.76,354.16 550.28,355.38 553.32,356.61 555.85,357.61 557.36,358.28 559.89,358.57 562.42,358.87 563.94,358.96 566.47,359.17 567.99,359.51 571.02,359.86 573.55,359.95 575.07,360.15 577.6,360.15 580.13,360.19 581.65,360.08 584.18,360 585.7,359.78 588.23,359.32 590.76,358.64 592.28,357.97 595.31,357.53 597.84,356.99 599.36,356.58 601.89,356.24 603.41,355.35 605.94,354.46 608.47,353.69 609.98,352.89 612.51,352.26 614.03,351.59 616.56,350.91 619.6,350.16 621.12,349.43 623.65,348.75 626.18,347.78 627.69,346.43 630.73,345.06 633.26,343.78 634.78,342.51 637.81,340.95 640.34,339.34 641.86,337.65 644.39,335.69 645.91,333.85 648.44,332.13 650.97,330.41 652.49,328.79 655.02,327.3 656.53,325.95 659.06,324.45 661.59,322.9 663.11,321.13 665.64,319.57 667.16,318.13 670.19,316.56 672.72,315.03 674.24,313.56 676.77,312.45 679.3,311.32 680.82,310.13 683.35,309.07 684.87,307.7 687.4,306.18 689.93,304.6 691.45,302.97 693.98,301.11 695.49,299.41 698.02,297.53 700.55,295.46 702.07,293.41 704.6,291.35 706.12,289.44 708.65,287.54 711.68,285.63 713.2,283.79 715.73,281.87 718.26,279.79 719.78,277.79 722.31,275.8 723.83,273.77 726.86,271.88 729.9,270.28 732.43,268.64 733.95,266.82 736.98,264.98 739.51,263.12 741.03,261.2 743.56,259.22 745.08,257.23 747.61,255.05 750.14,252.92 751.66,251.22 754.69,249.61 757.22,247.92 758.74,246.18 761.27,244.62 762.79,243.11 765.32,241.5 767.85,239.94 769.36,238.32 771.89,236.64 774.93,235.23 776.45,233.92 778.98,232.42 780.5,230.89 783.03,229.74 785.56,228.64 787.07,227.48 789.6,226.56 791.12,225.76 793.65,224.66 796.18,223.4 797.7,221.81 800.23,220.16 801.75,218.35 804.78,216.58 807.31,214.92 808.83,213.14 811.36,211.16 813.89,209.14 815.91,207.16 818.44,205.24 820.97,203.28 823,200.96 825.53,198.53 828.06,196.22 829.58,194.1 832.11,192.07 833.62,190.45 836.15,188.96 838.68,187.72 840.2,186.48 842.73,185.12 844.25,183.68 846.78,182.42 849.31,181.47 850.83,180.62 853.86,180.02 856.39,179.44 857.91,178.57 860.44,177.62 861.96,176.55 864.49,175.56 867.02,174.61 868.53,173.75 871.06,173.02 872.58,172.26 875.11,171.53 877.64,170.62 879.16,169.78 881.69,169.03 883.21,168.66 885.74,168.28 888.27,167.93 889.79,167.55 892.32,167.4 893.83,167.39 896.36,167.12 899.4,166.6 900.92,165.92 903.45,165.25 905.98,164.61 907.49,163.99 910.02,163.48 913.06,163.32 915.08,163.31 917.61,163.32 920.65,163.33 922.17,163.18 925.2,162.84 927.73,162.57 929.25,162.6 931.78,162.37 934.31,162.25 935.83,162.09 938.86,161.73 941.39,161.71 942.91,161.94 945.44,162.27 946.96,162.72 949.49,163.52 952.02,164.22 953.54,164.75 956.07,165.12 957.59,165.85 960.12,166.95 962.65,168.3 964.16,169.26 966.69,170.29 969.73,171.76 971.25,173.16 973.78,174.15 975.29,174.34 977.82,174.37 980.35,174.14 981.87,173.55 984.4,172.78 985.92,171.86 988.96,170.91 991.49,170.12 993,169.25 995.53,168.32 998.06,167.23 1000.09,166.13 1002.62,164.57 1005.15,163.17 1006.66,162 1009.7,160.85 1012.23,159.63 1013.75,158.24 1016.28,156.8 1017.8,155.13 1020.33,153.32 1022.86,151.42 1024.37,149.56 1026.9,147.8 1028.42,146.18 1030.95,144.8 1033.48,143.16 1035,141.71 1038.03,140.34 1040.56,138.97 1042.08,137.47 1044.61,135.87 1046.13,134.33 1048.66,133.13 1051.19,131.92 1052.71,130.7 1055.24,129.36 1056.76,127.97 1059.29,126.7 1061.82,125.17 1063.33,123.47 1065.86,121.52 1067.38,119.64 1069.91,118.39 1072.44,117.33 1073.96,115.99 1076.49,114.43 1078.01,113.31 1080.54,112.1" fill="none" stroke="#800080" stroke-width="2.08" stroke-linejoin="round"/>
<path d="M45.5 252.5H1130.5" stroke="#ff0000" stroke-opacity="0.7" stroke-width="1.39" stroke-dasharray="8.9 2.22 1.44 2.22" fill="none"/>
<path d="M45.5 16.5H1130.5" stroke="#008000" stroke-opacity="0.7" stroke-width="1.39" stroke-dasharray="8.9 2.22 1.44 2.22" fill="none"/>
<path d="M1080.5 441.5V10.5" stroke="#008000" stroke-opacity="0.7" stroke-width="1.39" stroke-dasharray="5.1 2.2" fill="none"/>
</g>
<rect x="45.5" y="10.5" width="1085" height="431" fill="none" stroke="#000" stroke-width="1.1"/>
<path d="M40.5 412.5H45.5M40.5 356.5H45.5M40.5 300.5H45.5M40.5 244.5H45.5M40.5 188.5H45.5M40.5 132.5H45.5M40.5 76.5H45.5M40.5 20.5H45.5M174.5 441.5V446.5M359.5 441.5V446.5M544.5 441.5V446.5M728.5 441.5V446.5M914.5 441.5V446.5M1098.5 441.5V446.5" stroke="#000" stroke-width="1.1" fill="none"/>
<text x="34.7" y="417" font-size="13.1" text-anchor="end" fill="#000" textLength="22.9" lengthAdjust="spacingAndGlyphs">200</text>
<text x="34.7" y="361" font-size="13.1" text-anchor="end" fill="#000" textLength="22.9" lengthAdjust="spacingAndGlyphs">250</text>
<text x="34.7" y="305" font-size="13.1" text-anchor="end" fill="#000" textLength="22.9" lengthAdjust="spacingAndGlyphs">300</text>
<text x="34.7" y="249" font-size="13.1" text-anchor="end" fill="#000" textLength="22.9" lengthAdjust="spacingAndGlyphs">350</text>
<text x="34.7" y="193" font-size="13.1" text-anchor="end" fill="#000" textLength="23.8" lengthAdjust="spacingAndGlyphs">400</text>
<text x="34.7" y="137" font-size="13.1" text-anchor="end" fill="#000" textLength="23.8" lengthAdjust="spacingAndGlyphs">450</text>
<text x="34.7" y="81" font-size="13.1" text-anchor="end" fill="#000" textLength="22.9" lengthAdjust="spacingAndGlyphs">500</text>
<text x="34.7" y="24.1" font-size="13.1" text-anchor="end" fill="#000" textLength="22.9" lengthAdjust="spacingAndGlyphs">550</text>
<rect x="930.6" y="334.2" width="182.2" height="89.9" rx="3.8" ry="3.8" fill="#fff" fill-opacity="0.85" stroke="#008000" stroke-width="1.1"/>
<text x="947.3" y="351" font-size="15.3" text-anchor="start" fill="#008000" textLength="160.4" lengthAdjust="spacingAndGlyphs">482.47 (+5.48 +1.15%)</text>
<text x="999.6" y="366.8" font-size="15.3" text-anchor="start" fill="#008000" textLength="108" lengthAdjust="spacingAndGlyphs">343.05~553.24</text>
<text x="942.4" y="382.7" font-size="15.3" text-anchor="start" fill="#008000" textLength="165.2" lengthAdjust="spacingAndGlyphs">505.17/510.03/465.96</text>
<text x="980.5" y="398.8" font-size="15.3" text-anchor="start" fill="#008000" textLength="127.1" lengthAdjust="spacingAndGlyphs">2025-11-26 05:00</text>
<text x="934.4" y="416.8" font-size="15.3" text-anchor="start" fill="#008000" textLength="45.4" lengthAdjust="spacingAndGlyphs">-1.02/</text>
<text class="cjk" x="979.9" y="416.8" font-size="15.3" text-anchor="start" fill="#008000" textLength="29.6" lengthAdjust="spacingAndGlyphs">偏空</text>
<text x="1010.4" y="416.8" font-size="15.3" text-anchor="start" fill="#008000" textLength="97.2" lengthAdjust="spacingAndGlyphs">/+0.41/+0.16</text>
<rect x="52.7" y="17.7" width="107.4" height="118.2" rx="2.8" ry="2.8" fill="#fff" fill-opacity="0.8" stroke="#ccc" stroke-opacity="0.8" stroke-width="1.1"/>
<path d="M56 26.8H86" stroke="#000" stroke-width="2.08" fill="none"/>
<path d="M56 46.8H86" stroke="#008000" stroke-width="2.08" fill="none"/>
<path d="M56 67.8H86" stroke="#ff0000" stroke-width="2.08" fill="none"/>
<path d="M56 85.9H86" stroke="#800080" stroke-width="2.08" fill="none"/>
<path d="M71.2 96L61 115.4H81.4Z" fill="#008000"/>
<path d="M71.2 135.8L61 115.4H81.4Z" fill="#ff0000"/>
<text x="97.1" y="32" font-size="13.1" text-anchor="start" fill="#000" textLength="32.6" lengthAdjust="spacingAndGlyphs">Close</text>
<text x="96.5" y="51.8" font-size="13.1" text-anchor="start" fill="#000" textLength="37.2" lengthAdjust="spacingAndGlyphs">MA50[</text>
<text class="cjk" x="135.1" y="52.4" font-size="13.1" text-anchor="start" fill="#000" textLength="13.1" lengthAdjust="spacingAndGlyphs">买</text>
<text x="149.6" y="51.8" font-size="13.1" text-anchor="start" fill="#000">]</text>
<text x="96.5" y="72.9" font-size="13.1" text-anchor="start" fill="#000" textLength="37.2" lengthAdjust="spacingAndGlyphs">MA25[</text>
<text class="cjk" x="135.1" y="73.5" font-size="13.1" text-anchor="start" fill="#000" textLength="13.1" lengthAdjust="spacingAndGlyphs">卖</text>
<text x="149.6" y="72.9" font-size="13.1" text-anchor="start" fill="#000">]</text>
<text x="96.5" y="91.5" font-size="13.1" text-anchor="start" fill="#000" textLength="41.6" lengthAdjust="spacingAndGlyphs">MA200</text>
<text x="96.6" y="109.7" font-size="13.1" text-anchor="start" fill="#000" textLength="20.4" lengthAdjust="spacingAndGlyphs">Buy</text>
<text x="97.3" y="129" font-size="13.1" text-anchor="start" fill="#000" textLength="21.6" lengthAdjust="spacingAndGlyphs">Sell</text>
<path d="M174.5 456.5V600.5M359.5 456.5V600.5M544.5 456.5V600.5M728.5 456.5V600.5M914.5 456.5V600.5M1098.5 456.5V600.5M45.5 558.5H1130.5M45.5 516.5H1130.5M45.5 474.5H1130.5" stroke="#b0b0b0" stroke-width="1" fill="none" shape-rendering="crispEdges"/>
<path d="M99.5 600.3V578M100.5 600.3V570M102.5 600.3V586M103.5 600.3V594M105.5 600.3V588M106.5 600.3V576M107.5 600.3V576M109.5 600.3V578M110.5 600.3V588M112.5 600.3V581M113.5 600.3V564M114.5 600.3V564M116.5 600.3V571M117.5 600.3V588M119.5 600.3V591M120.5 600.3V581M121.5 600.3V581M123.5 600.3V588M124.5 600.3V579M126.5 600.3V570M127.5 600.3V563M128.5 600.3V563M130.5 600.3V567M131.5 600.3V559M140.5 600.3V542M141.5 600.3V511M142.5 600.3V545M144.5 600.3V552M145.5 600.3V552M146.5 600.3V557M147.5 600.3V545M148.5 600.3V555M149.5 600.3V574M151.5 600.3V576M152.5 600.3V575M153.5 600.3V575M155.5 600.3V580M158.5 600.3V555M159.5 600.3V571M160.5 600.3V573M162.5 600.3V565M163.5 600.3V573M165.5 600.3V550M166.5 600.3V570M167.5 600.3V561M168.5 600.3V561M169.5 600.3V583M170.5 600.3V583M172.5 600.3V580M181.5 600.3V573M184.5 600.3V547M185.5 600.3V547M187.5 600.3V512M188.5 600.3V537M190.5 600.3V552M191.5 600.3V565M192.5 600.3V580M194.5 600.3V570M195.5 600.3V578M198.5 600.3V584M199.5 600.3V538M200.5 600.3V538M201.5 600.3V572M202.5 600.3V570M204.5 600.3V575M205.5 600.3V546M206.5 600.3V553M207.5 600.3V553M208.5 600.3V567M209.5 600.3V572M211.5 600.3V564M212.5 600.3V562M213.5 600.3V567M223.5 600.3V577M224.5 600.3V569M226.5 600.3V574M227.5 600.3V579M229.5 600.3V580M230.5 600.3V573M231.5 600.3V581M233.5 600.3V552M234.5 600.3V573M236.5 600.3V566M237.5 600.3V576M238.5 600.3V581M240.5 600.3V567M241.5 600.3V583M243.5 600.3V579M244.5 600.3V585M245.5 600.3V571M247.5 600.3V584M248.5 600.3V571M251.5 600.3V579M252.5 600.3V575M254.5 600.3V584M255.5 600.3V585M265.5 600.3V581M266.5 600.3V581M269.5 600.3V578M270.5 600.3V585M272.5 600.3V580M273.5 600.3V579M275.5 600.3V577M276.5 600.3V583M277.5 600.3V570M279.5 600.3V561M280.5 600.3V577M282.5 600.3V582M283.5 600.3V584M284.5 600.3V586M286.5 600.3V588M287.5 600.3V585M289.5 600.3V581M290.5 600.3V572M291.5 600.3V581M293.5 600.3V585M294.5 600.3V580M296.5 600.3V580M305.5 600.3V576M307.5 600.3V577M308.5 600.3V585M309.5 600.3V578M311.5 600.3V577M312.5 600.3V574M314.5 600.3V578M315.5 600.3V580M316.5 600.3V589M318.5 600.3V577M319.5 600.3V576M321.5 600.3V585M322.5 600.3V574M323.5 600.3V578M325.5 600.3V552M326.5 600.3V562M328.5 600.3V569M329.5 600.3V579M330.5 600.3V587M332.5 600.3V578M333.5 600.3V580M335.5 600.3V578M336.5 600.3V582M337.5 600.3V582M346.5 600.3V556M347.5 600.3V581M348.5 600.3V572M350.5 600.3V569M351.5 600.3V569M353.5 600.3V578M354.5 600.3V584M357.5 600.3V585M358.5 600.3V583M360.5 600.3V562M361.5 600.3V555M362.5 600.3V569M363.5 600.3V557M364.5 600.3V569M365.5 600.3V555M368.5 600.3V565M369.5 600.3V565M370.5 600.3V501M371.5 600.3V504M372.5 600.3V559M374.5 600.3V568M375.5 600.3V545M376.5 600.3V568M378.5 600.3V568M386.5 600.3V540M389.5 600.3V568M390.5 600.3V560M392.5 600.3V555M393.5 600.3V574M394.5 600.3V574M395.5 600.3V545M396.5 600.3V562M397.5 600.3V574M399.5 600.3V574M400.5 600.3V577M401.5 600.3V575M403.5 600.3V581M404.5 600.3V579M406.5 600.3V577M407.5 600.3V574M408.5 600.3V568M410.5 600.3V579M411.5 600.3V579M413.5 600.3V578M414.5 600.3V560M415.5 600.3V562M417.5 600.3V505M418.5 600.3V568M420.5 600.3V577M429.5 600.3V568M431.5 600.3V552M432.5 600.3V574M433.5 600.3V574M435.5 600.3V572M436.5 600.3V569M438.5 600.3V576M439.5 600.3V566M440.5 600.3V566M441.5 600.3V544M442.5 600.3V565M443.5 600.3V554M446.5 600.3V559M447.5 600.3V573M449.5 600.3V574M450.5 600.3V565M453.5 600.3V577M454.5 600.3V583M456.5 600.3V562M457.5 600.3V566M459.5 600.3V565M460.5 600.3V571M461.5 600.3V571M470.5 600.3V575M471.5 600.3V575M472.5 600.3V583M474.5 600.3V578M475.5 600.3V582M477.5 600.3V581M478.5 600.3V583M479.5 600.3V578M481.5 600.3V579M482.5 600.3V582M485.5 600.3V584M486.5 600.3V585M488.5 600.3V575M489.5 600.3V574M491.5 600.3V574M492.5 600.3V566M493.5 600.3V580M495.5 600.3V562M496.5 600.3V564M498.5 600.3V568M499.5 600.3V571M500.5 600.3V571M502.5 600.3V572M513.5 600.3V546M514.5 600.3V544M516.5 600.3V563M517.5 600.3V539M518.5 600.3V575M519.5 600.3V555M520.5 600.3V575M521.5 600.3V577M523.5 600.3V568M524.5 600.3V568M525.5 600.3V575M527.5 600.3V553M528.5 600.3V579M530.5 600.3V578M531.5 600.3V582M532.5 600.3V576M534.5 600.3V563M535.5 600.3V563M537.5 600.3V582M538.5 600.3V580M539.5 600.3V580M541.5 600.3V580M542.5 600.3V586M552.5 600.3V557M553.5 600.3V563M555.5 600.3V543M556.5 600.3V564M557.5 600.3V575M559.5 600.3V572M560.5 600.3V570M562.5 600.3V550M563.5 600.3V555M564.5 600.3V568M565.5 600.3V555M566.5 600.3V568M567.5 600.3V567M570.5 600.3V573M571.5 600.3V583M573.5 600.3V577M574.5 600.3V582M576.5 600.3V583M577.5 600.3V578M578.5 600.3V570M580.5 600.3V557M581.5 600.3V553M583.5 600.3V561M584.5 600.3V575M585.5 600.3V575M594.5 600.3V575M595.5 600.3V575M596.5 600.3V588M598.5 600.3V585M599.5 600.3V577M601.5 600.3V547M602.5 600.3V557M603.5 600.3V584M605.5 600.3V577M606.5 600.3V571M608.5 600.3V584M609.5 600.3V582M610.5 600.3V590M612.5 600.3V584M613.5 600.3V586M615.5 600.3V571M616.5 600.3V546M617.5 600.3V572M619.5 600.3V572M620.5 600.3V582M622.5 600.3V561M623.5 600.3V585M624.5 600.3V576M626.5 600.3V579M635.5 600.3V591M638.5 600.3V590M640.5 600.3V580M641.5 600.3V587M642.5 600.3V578M644.5 600.3V571M645.5 600.3V549M647.5 600.3V571M648.5 600.3V560M649.5 600.3V569M651.5 600.3V583M652.5 600.3V584M654.5 600.3V586M655.5 600.3V583M656.5 600.3V588M658.5 600.3V589M659.5 600.3V584M661.5 600.3V586M662.5 600.3V580M663.5 600.3V590M665.5 600.3V587M666.5 600.3V585M677.5 600.3V586M679.5 600.3V582M680.5 600.3V587M681.5 600.3V579M683.5 600.3V582M684.5 600.3V584M686.5 600.3V572M687.5 600.3V583M688.5 600.3V584M690.5 600.3V582M691.5 600.3V581M693.5 600.3V574M694.5 600.3V556M695.5 600.3V582M697.5 600.3V576M698.5 600.3V582M700.5 600.3V586M701.5 600.3V583M702.5 600.3V589M704.5 600.3V587M705.5 600.3V569M707.5 600.3V577M708.5 600.3V577M709.5 600.3V577M718.5 600.3V583M719.5 600.3V559M720.5 600.3V584M722.5 600.3V579M723.5 600.3V592M726.5 600.3V592M727.5 600.3V592M729.5 600.3V583M730.5 600.3V578M732.5 600.3V585M733.5 600.3V583M734.5 600.3V583M736.5 600.3V583M737.5 600.3V575M739.5 600.3V589M740.5 600.3V588M741.5 600.3V588M743.5 600.3V571M744.5 600.3V574M746.5 600.3V583M747.5 600.3V584M748.5 600.3V587M750.5 600.3V587M759.5 600.3V589M761.5 600.3V577M762.5 600.3V588M764.5 600.3V586M765.5 600.3V577M766.5 600.3V587M768.5 600.3V588M769.5 600.3V593M771.5 600.3V592M772.5 600.3V589M775.5 600.3V577M776.5 600.3V590M778.5 600.3V591M779.5 600.3V588M780.5 600.3V589M782.5 600.3V587M783.5 600.3V580M785.5 600.3V587M786.5 600.3V556M787.5 600.3V583M789.5 600.3V580M790.5 600.3V589M801.5 600.3V592M804.5 600.3V577M805.5 600.3V590M807.5 600.3V588M808.5 600.3V592M810.5 600.3V587M811.5 600.3V591M812.5 600.3V582M814.5 600.3V580M815.5 600.3V580M817.5 600.3V591M818.5 600.3V585M819.5 600.3V586M821.5 600.3V592M824.5 600.3V585M825.5 600.3V584M826.5 600.3V590M828.5 600.3V584M829.5 600.3V589M831.5 600.3V595M832.5 600.3V574M833.5 600.3V574M842.5 600.3V589M843.5 600.3V586M844.5 600.3V591M846.5 600.3V590M847.5 600.3V587M849.5 600.3V587M850.5 600.3V582M851.5 600.3V582M853.5 600.3V586M854.5 600.3V582M856.5 600.3V586M857.5 600.3V584M858.5 600.3V583M860.5 600.3V587M861.5 600.3V576M863.5 600.3V584M864.5 600.3V584M865.5 600.3V585M867.5 600.3V583M868.5 600.3V585M870.5 600.3V582M871.5 600.3V584M872.5 600.3V586M874.5 600.3V587M883.5 600.3V581M885.5 600.3V568M886.5 600.3V583M888.5 600.3V579M889.5 600.3V571M890.5 600.3V571M892.5 600.3V583M893.5 600.3V582M895.5 600.3V578M896.5 600.3V578M897.5 600.3V587M899.5 600.3V577M900.5 600.3V585M902.5 600.3V581M903.5 600.3V580M904.5 600.3V580M906.5 600.3V573M907.5 600.3V575M909.5 600.3V594M911.5 600.3V586M913.5 600.3V586M914.5 600.3V586M924.5 600.3V569M925.5 600.3V583M927.5 600.3V567M928.5 600.3V528M929.5 600.3V562M931.5 600.3V581M932.5 600.3V575M934.5 600.3V588M935.5 600.3V581M936.5 600.3V581M938.5 600.3V575M939.5 600.3V577M941.5 600.3V555M942.5 600.3V573M943.5 600.3V573M945.5 600.3V561M946.5 600.3V572M948.5 600.3V565M949.5 600.3V576M950.5 600.3V582M952.5 600.3V585M953.5 600.3V578M955.5 600.3V584M956.5 600.3V582M966.5 600.3V577M967.5 600.3V571M970.5 600.3V571M971.5 600.3V582M973.5 600.3V587M974.5 600.3V512M975.5 600.3V581M977.5 600.3V577M978.5 600.3V584M980.5 600.3V582M981.5 600.3V578M982.5 600.3V579M984.5 600.3V573M985.5 600.3V583M988.5 600.3V582M989.5 600.3V585M991.5 600.3V584M992.5 600.3V584M994.5 600.3V581M995.5 600.3V577M996.5 600.3V582M998.5 600.3V585M1009.5 600.3V579M1010.5 600.3V588M1012.5 600.3V587M1013.5 600.3V582M1014.5 600.3V585M1016.5 600.3V582M1017.5 600.3V586M1019.5 600.3V583M1020.5 600.3V532M1021.5 600.3V575M1023.5 600.3V575M1024.5 600.3V585M1026.5 600.3V581M1027.5 600.3V581M1028.5 600.3V575M1030.5 600.3V569M1031.5 600.3V570M1033.5 600.3V571M1034.5 600.3V585M1035.5 600.3V585M1037.5 600.3V577M1038.5 600.3V571M1048.5 600.3V587M1049.5 600.3V587M1051.5 600.3V581M1052.5 600.3V578M1053.5 600.3V579M1055.5 600.3V587M1056.5 600.3V581M1058.5 600.3V583M1059.5 600.3V588M1060.5 600.3V586M1062.5 600.3V577M1063.5 600.3V583M1065.5 600.3V565M1066.5 600.3V550M1067.5 600.3V570M1069.5 600.3V565M1070.5 600.3V573M1072.5 600.3V585M1073.5 600.3V580M1074.5 600.3V580M1076.5 600.3V574M1077.5 600.3V569M1079.5 600.3V571M1080.5 600.3V571" stroke="#bfbfbf" stroke-width="1" fill="none" shape-rendering="crispEdges"/>
<rect x="45.5" y="456.5" width="1085" height="144" fill="none" stroke="#000" stroke-width="1.1"/>
<path d="M40.5 600.5H45.5M40.5 558.5H45.5M40.5 516.5H45.5M40.5 474.5H45.5M174.5 600.5V605.5M359.5 600.5V605.5M544.5 600.5V605.5M728.5 600.5V605.5M914.5 600.5V605.5M1098.5 600.5V605.5" stroke="#000" stroke-width="1.1" fill="none"/>
<text x="35.3" y="604.9" font-size="13.1" text-anchor="end" fill="#000" textLength="7.8" lengthAdjust="spacingAndGlyphs">0</text>
<text x="35.3" y="562.9" font-size="13.1" text-anchor="end" fill="#000" textLength="7.8" lengthAdjust="spacingAndGlyphs">1</text>
<text x="35.3" y="520.9" font-size="13.1" text-anchor="end" fill="#000" textLength="7.8" lengthAdjust="spacingAndGlyphs">2</text>
<text x="35.3" y="478.9" font-size="13.1" text-anchor="end" fill="#000" textLength="7.8" lengthAdjust="spacingAndGlyphs">3</text>
<text x="45.4" y="451.6" font-size="13.1" text-anchor="start" fill="#000" textLength="22.8" lengthAdjust="spacingAndGlyphs">1e6</text>
<text x="173.9" y="619" font-size="13.1" text-anchor="middle" fill="#000" textLength="52.6" lengthAdjust="spacingAndGlyphs">2021-01</text>
<text x="358.9" y="619" font-size="13.1" text-anchor="middle" fill="#000" textLength="52.6" lengthAdjust="spacingAndGlyphs">2022-01</text>
<text x="543.9" y="619" font-size="13.1" text-anchor="middle" fill="#000" textLength="52.6" lengthAdjust="spacingAndGlyphs">2023-01</text>
<text x="727.9" y="619" font-size="13.1" text-anchor="middle" fill="#000" textLength="52.6" lengthAdjust="spacingAndGlyphs">2024-01</text>
<text x="913.9" y="619" font-size="13.1" text-anchor="middle" fill="#000" textLength="52.6" lengthAdjust="spacingAndGlyphs">2025-01</text>
<text x="1097.9" y="619" font-size="13.1" text-anchor="middle" fill="#000" textLength="52.6" lengthAdjust="spacingAndGlyphs">2026-01</text>
<text transform="translate(18.2,529) rotate(-90)" font-size="13.1" text-anchor="middle" textLength="43.7" lengthAdjust="spacingAndGlyphs">Volume</text>
<text x="45.6" y="655.7" font-size="16.2" text-anchor="start" fill="#000" textLength="39.5" lengthAdjust="spacingAndGlyphs">MSFT</text>
<text class="cjk" x="90.2" y="656.4" font-size="16.2" text-anchor="start" fill="#000" textLength="66.2" lengthAdjust="spacingAndGlyphs">交易次数</text>
<text x="157.6" y="655.7" font-size="16.2" text-anchor="start" fill="#000" textLength="18.8" lengthAdjust="spacingAndGlyphs">: 6</text>
<text class="cjk" x="44.7" y="676.7" font-size="16.2" text-anchor="start" fill="#000" textLength="99.4" lengthAdjust="spacingAndGlyphs">策略总收益率</text>
<text x="144.82" y="676" font-size="16.2" text-anchor="start" fill="#000" textLength="75.8" lengthAdjust="spacingAndGlyphs">: 168.80%</text>
<text class="cjk" x="44.7" y="695.5" font-size="16.2" text-anchor="start" fill="#000" textLength="99.4" lengthAdjust="spacingAndGlyphs">长期持有收益</text>
<text x="144.82" y="694.8" font-size="16.2" text-anchor="start" fill="#000" textLength="75.8" lengthAdjust="spacingAndGlyphs">: 139.81%</text>
<text class="cjk" x="44.9" y="715.5" font-size="16.2" text-anchor="start" fill="#000" textLength="65.8" lengthAdjust="spacingAndGlyphs">交易记录</text>
<text x="110.78" y="714.8" font-size="16.2" text-anchor="start" fill="#000">:</text>
<text x="55.9" y="731.7" font-size="16.2" text-anchor="start" fill="#000" textLength="63.7" lengthAdjust="spacingAndGlyphs">Buy Date</text>
<text x="131" y="731.7" font-size="16.2" text-anchor="start" fill="#000" textLength="65.7" lengthAdjust="spacingAndGlyphs">Buy Price</text>
<text x="208" y="731.7" font-size="16.2" text-anchor="start" fill="#000" textLength="64.8" lengthAdjust="spacingAndGlyphs">Sell Date</text>
<text x="284.4" y="731.7" font-size="16.2" text-anchor="start" fill="#000" textLength="66.8" lengthAdjust="spacingAndGlyphs">Sell Price</text>
<text x="362.3" y="731.7" font-size="16.2" text-anchor="start" fill="#000" textLength="93.6" lengthAdjust="spacingAndGlyphs">Holding Days</text>
<text x="467.3" y="731.7" font-size="16.2" text-anchor="start" fill="#000" textLength="53.1" lengthAdjust="spacingAndGlyphs">Profit %</text>
<text x="45.7" y="748.7" font-size="16.2" text-anchor="start" fill="#000" textLength="88.1" lengthAdjust="spacingAndGlyphs">2020-10-05</text>
<text x="159.9" y="748.7" font-size="16.2" text-anchor="start" fill="#000" textLength="54.1" lengthAdjust="spacingAndGlyphs">201.19</text>
<text x="219.9" y="748.7" font-size="16.2" text-anchor="start" fill="#000" textLength="88.1" lengthAdjust="spacingAndGlyphs">2021-04-30</text>
<text x="339.3" y="748.7" font-size="16.2" text-anchor="start" fill="#000" textLength="54.1" lengthAdjust="spacingAndGlyphs">242.46</text>
<text x="449.3" y="748.7" font-size="16.2" text-anchor="start" fill="#000" textLength="28.6" lengthAdjust="spacingAndGlyphs">207</text>
<text x="504.5" y="748.7" font-size="16.2" text-anchor="start" fill="#000" textLength="43.6" lengthAdjust="spacingAndGlyphs">20.51</text>
<text x="45.7" y="766.2" font-size="16.2" text-anchor="start" fill="#000" textLength="88.1" lengthAdjust="spacingAndGlyphs">2021-05-12</text>
<text x="159.9" y="766.2" font-size="16.2" text-anchor="start" fill="#000" textLength="54.1" lengthAdjust="spacingAndGlyphs">229.81</text>
<text x="219.9" y="766.2" font-size="16.2" text-anchor="start" fill="#000" textLength="88.1" lengthAdjust="spacingAndGlyphs">2021-09-10</text>
<text x="339.3" y="766.2" font-size="16.2" text-anchor="start" fill="#000" textLength="54.1" lengthAdjust="spacingAndGlyphs">285.60</text>
<text x="449.3" y="766.2" font-size="16.2" text-anchor="start" fill="#000" textLength="28.6" lengthAdjust="spacingAndGlyphs">121</text>
<text x="504.5" y="766.2" font-size="16.2" text-anchor="start" fill="#000" textLength="43.6" lengthAdjust="spacingAndGlyphs">24.28</text>
<text x="45.7" y="783.5" font-size="16.2" text-anchor="start" fill="#000" textLength="88.1" lengthAdjust="spacingAndGlyphs">2021-09-28</text>
<text x="159.9" y="783.5" font-size="16.2" text-anchor="start" fill="#000" textLength="54.1" lengthAdjust="spacingAndGlyphs">273.78</text>
<text x="219.9" y="783.5" font-size="16.2" text-anchor="start" fill="#000" textLength="88.1" lengthAdjust="spacingAndGlyphs">2023-07-26</text>
<text x="339.3" y="783.5" font-size="16.2" text-anchor="start" fill="#000" textLength="54.1" lengthAdjust="spacingAndGlyphs">331.60</text>
<text x="449.3" y="783.5" font-size="16.2" text-anchor="start" fill="#000" textLength="28.6" lengthAdjust="spacingAndGlyphs">666</text>
<text x="504.5" y="783.5" font-size="16.2" text-anchor="start" fill="#000" textLength="43.6" lengthAdjust="spacingAndGlyphs">21.12</text>
<text x="45.7" y="800.9" font-size="16.2" text-anchor="start" fill="#000" textLength="88.1" lengthAdjust="spacingAndGlyphs">2023-07-27</text>
<text x="159.9" y="800.9" font-size="16.2" text-anchor="start" fill="#000" textLength="54.1" lengthAdjust="spacingAndGlyphs">324.54</text>
<text x="219.9" y="800.9" font-size="16.2" text-anchor="start" fill="#000" textLength="88.1" lengthAdjust="spacingAndGlyphs">2024-02-20</text>
<text x="339.3" y="800.9" font-size="16.2" text-anchor="start" fill="#000" textLength="54.1" lengthAdjust="spacingAndGlyphs">397.74</text>
<text x="449.3" y="800.9" font-size="16.2" text-anchor="start" fill="#000" textLength="28.6" lengthAdjust="spacingAndGlyphs">208</text>
<text x="504.5" y="800.9" font-size="16.2" text-anchor="start" fill="#000" textLength="43.6" lengthAdjust="spacingAndGlyphs">22.56</text>
<text x="45.7" y="818.3" font-size="16.2" text-anchor="start" fill="#000" textLength="88.1" lengthAdjust="spacingAndGlyphs">2024-04-15</text>
<text x="159.9" y="818.3" font-size="16.2" text-anchor="start" fill="#000" textLength="54.1" lengthAdjust="spacingAndGlyphs">408.53</text>
<text x="219.9" y="818.3" font-size="16.2" text-anchor="start" fill="#000" textLength="88.1" lengthAdjust="spacingAndGlyphs">2025-08-18</text>
<text x="339.3" y="818.3" font-size="16.2" text-anchor="start" fill="#000" textLength="54.1" lengthAdjust="spacingAndGlyphs">515.30</text>
<text x="449.3" y="818.3" font-size="16.2" text-anchor="start" fill="#000" textLength="28.6" lengthAdjust="spacingAndGlyphs">490</text>
<text x="504.5" y="818.3" font-size="16.2" text-anchor="start" fill="#000" textLength="43.6" lengthAdjust="spacingAndGlyphs">26.14</text>
<text x="45.7" y="835.6" font-size="16.2" text-anchor="start" fill="#000" textLength="88.1" lengthAdjust="spacingAndGlyphs">2025-08-25</text>
<text x="159.9" y="835.6" font-size="16.2" text-anchor="start" fill="#000" textLength="54.1" lengthAdjust="spacingAndGlyphs">503.36</text>
<text x="219.9" y="835.6" font-size="16.2" text-anchor="start" fill="#000" textLength="88.1" lengthAdjust="spacingAndGlyphs">2025-11-26</text>
<text x="339.3" y="835.6" font-size="16.2" text-anchor="start" fill="#000" textLength="54.1" lengthAdjust="spacingAndGlyphs">482.47</text>
<text x="454.7" y="835.6" font-size="16.2" text-anchor="start" fill="#000" textLength="19" lengthAdjust="spacingAndGlyphs">93</text>
<text x="498.6" y="835.6" font-size="16.2" text-anchor="start" fill="#000" textLength="39.8" lengthAdjust="spacingAndGlyphs">-4.15</text>
</svg></body></html>
